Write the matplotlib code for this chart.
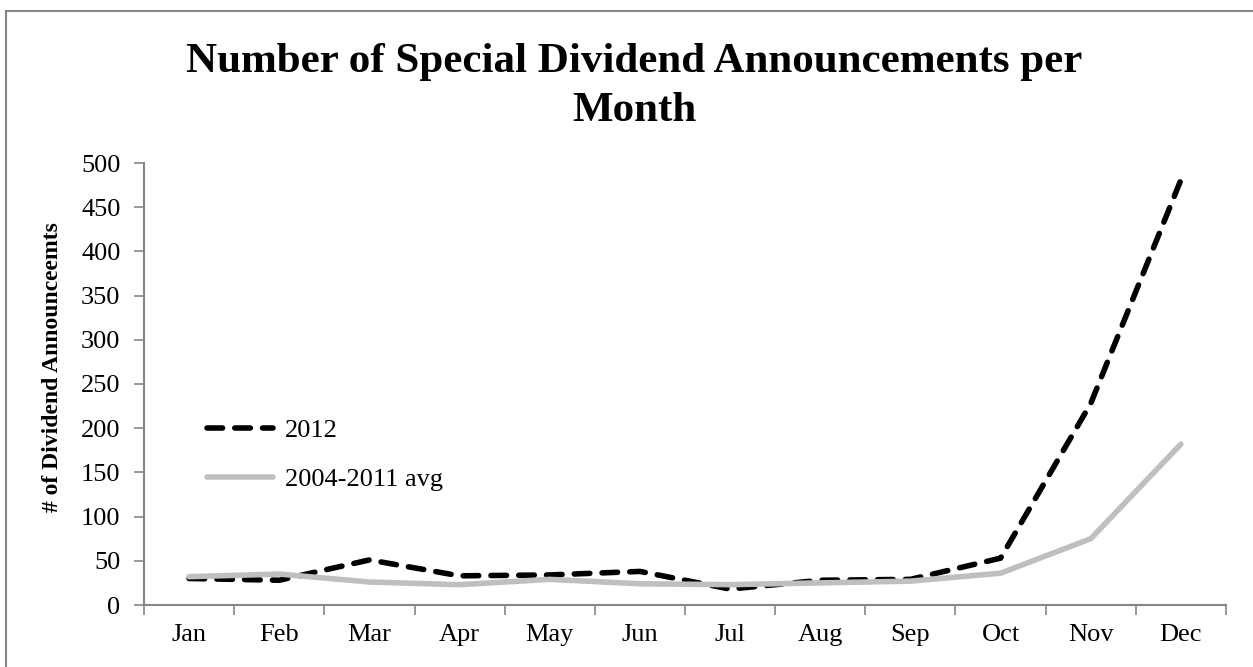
import matplotlib
matplotlib.use("Agg")
import matplotlib.pyplot as plt
import numpy as np
from matplotlib.patches import Rectangle

plt.rcParams['font.family'] = ['Liberation Serif', 'DejaVu Serif']

# Monthly counts of special dividend announcements
months = ['Jan', 'Feb', 'Mar', 'Apr', 'May', 'Jun',
          'Jul', 'Aug', 'Sep', 'Oct', 'Nov', 'Dec']
counts_2012 = [30, 28, 51, 33, 34, 38, 18, 28, 29, 53, 228, 481]
counts_avg = [32, 35, 26, 23, 29, 24, 23, 25, 27, 36, 75, 182]
yticks = list(range(0, 501, 50))

AXIS_GREY = '#868686'
LINE_GREY = '#BFBFBF'
W, H = 1253, 667


def make_chart():
    fig = plt.figure(figsize=(W / 100, H / 100), dpi=100)
    ax = fig.add_axes([144 / W, 1 - 605 / H, (1226 - 144) / W, (605 - 163) / H])

    # outer chart frame (runs off the right and bottom edges)
    fig.patches.append(Rectangle((6 / W, -0.05), 1.1, 1 - 11 / H + 0.05,
                                 transform=fig.transFigure, fill=False,
                                 edgecolor=AXIS_GREY, linewidth=1.5))

    x = np.arange(len(months)) + 0.5
    dash_style = (0, (2.8, 2.2))
    ax.plot(x, counts_2012, color='black', linewidth=4, linestyle=dash_style,
            dash_capstyle='round', dash_joinstyle='round', zorder=3,
            label='2012')
    ax.plot(x, counts_avg, color=LINE_GREY, linewidth=4,
            solid_capstyle='round', solid_joinstyle='round', zorder=4,
            label='2004-2011 avg')

    ax.set_xlim(0, 12)
    ax.set_ylim(0, 500)
    ax.set_yticks(yticks)

    # category boundaries get the tick marks, centers get the labels
    ax.set_xticks(np.arange(13))
    ax.set_xticklabels([])
    ax.set_xticks(x, minor=True)
    ax.set_xticklabels(months, minor=True)
    ax.tick_params(axis='x', which='major', direction='out', length=7,
                   width=1.2, color=AXIS_GREY)
    ax.tick_params(axis='x', which='minor', length=0, pad=14, labelsize=19)
    ax.tick_params(axis='y', direction='out', length=7, width=1.2,
                   color=AXIS_GREY, labelsize=19, pad=10)

    for side in ['top', 'right']:
        ax.spines[side].set_visible(False)
    for side in ['left', 'bottom']:
        ax.spines[side].set_color(AXIS_GREY)
        ax.spines[side].set_linewidth(1.5)

    ax.legend(loc='center left', bbox_to_anchor=(207 / W, 1 - 455 / H),
              bbox_transform=fig.transFigure, frameon=False, fontsize=19,
              handlelength=2.5, handletextpad=0.45, labelspacing=0.95,
              borderpad=0, borderaxespad=0)

    fig.text(0.506, 1 - 72 / H, 'Number of Special Dividend Announcements per',
             ha='center', va='baseline', fontsize=31, fontweight='bold')
    fig.text(0.506, 1 - 121 / H, 'Month',
             ha='center', va='baseline', fontsize=31, fontweight='bold')
    fig.text(53 / W, 1 - 367 / H, '# of Dividend Announceemts',
             rotation=90, ha='center', va='center', fontsize=17,
             fontweight='bold')

    fig.savefig('out.png', dpi=100)


if __name__ == "__main__":
    make_chart()
